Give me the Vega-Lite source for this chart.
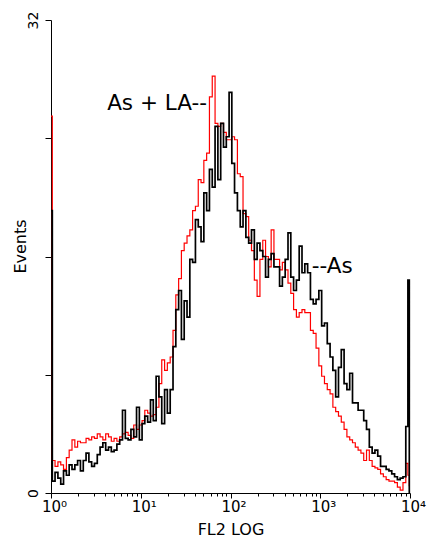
{
  "$schema": "https://vega.github.io/schema/vega-lite/v6.json",
  "width": 359,
  "height": 473,
  "autosize": {"type": "none"},
  "padding": {"left": 51, "top": 20, "right": 17, "bottom": 50},
  "background": "white",
  "config": {"view": {"stroke": null}, "font": "DejaVu Sans"},
  "datasets": {
    "hist": [
      {"fl2": 1, "As": 19.1, "AsLA": 25.5},
      {"fl2": 1.07, "As": 0.8, "AsLA": 2.2},
      {"fl2": 1.15, "As": 1.4, "AsLA": 1.8},
      {"fl2": 1.24, "As": 1.0, "AsLA": 2.1},
      {"fl2": 1.33, "As": 0.6, "AsLA": 1.9},
      {"fl2": 1.43, "As": 1.5, "AsLA": 1.6},
      {"fl2": 1.54, "As": 1.2, "AsLA": 2.4},
      {"fl2": 1.65, "As": 1.9, "AsLA": 2.9},
      {"fl2": 1.78, "As": 1.6, "AsLA": 3.6},
      {"fl2": 1.91, "As": 1.9, "AsLA": 3.1},
      {"fl2": 2.05, "As": 2.2, "AsLA": 3.5},
      {"fl2": 2.21, "As": 1.5, "AsLA": 3.4},
      {"fl2": 2.37, "As": 2.2, "AsLA": 3.4},
      {"fl2": 2.55, "As": 2.7, "AsLA": 3.7},
      {"fl2": 2.74, "As": 2.1, "AsLA": 3.6},
      {"fl2": 2.94, "As": 1.8, "AsLA": 3.8},
      {"fl2": 3.16, "As": 2.0, "AsLA": 3.7},
      {"fl2": 3.4, "As": 2.6, "AsLA": 4.0},
      {"fl2": 3.65, "As": 3.1, "AsLA": 3.8},
      {"fl2": 3.92, "As": 3.4, "AsLA": 3.6},
      {"fl2": 4.22, "As": 2.9, "AsLA": 4.0},
      {"fl2": 4.53, "As": 3.1, "AsLA": 3.8},
      {"fl2": 4.87, "As": 2.8, "AsLA": 3.5},
      {"fl2": 5.23, "As": 2.9, "AsLA": 3.7},
      {"fl2": 5.62, "As": 3.3, "AsLA": 3.5},
      {"fl2": 6.04, "As": 3.6, "AsLA": 3.8},
      {"fl2": 6.49, "As": 5.6, "AsLA": 4.0},
      {"fl2": 6.98, "As": 3.7, "AsLA": 4.1},
      {"fl2": 7.5, "As": 3.6, "AsLA": 3.9},
      {"fl2": 8.06, "As": 4.3, "AsLA": 3.7},
      {"fl2": 8.66, "As": 3.8, "AsLA": 4.6},
      {"fl2": 9.31, "As": 5.8, "AsLA": 4.3},
      {"fl2": 10, "As": 3.6, "AsLA": 4.6},
      {"fl2": 10.7, "As": 4.7, "AsLA": 4.9},
      {"fl2": 11.5, "As": 5.2, "AsLA": 5.6},
      {"fl2": 12.4, "As": 4.8, "AsLA": 5.4},
      {"fl2": 13.3, "As": 6.3, "AsLA": 5.2},
      {"fl2": 14.3, "As": 4.9, "AsLA": 5.3},
      {"fl2": 15.4, "As": 7.9, "AsLA": 5.8},
      {"fl2": 16.5, "As": 6.5, "AsLA": 7.4},
      {"fl2": 17.8, "As": 4.7, "AsLA": 9.0},
      {"fl2": 19.1, "As": 7.0, "AsLA": 8.3},
      {"fl2": 20.5, "As": 5.4, "AsLA": 8.8},
      {"fl2": 22.1, "As": 7.0, "AsLA": 9.2},
      {"fl2": 23.7, "As": 9.9, "AsLA": 11.0},
      {"fl2": 25.5, "As": 12.4, "AsLA": 13.4},
      {"fl2": 27.4, "As": 13.7, "AsLA": 14.5},
      {"fl2": 29.4, "As": 10.4, "AsLA": 16.4},
      {"fl2": 31.6, "As": 13.0, "AsLA": 16.9},
      {"fl2": 34.0, "As": 11.9, "AsLA": 17.4},
      {"fl2": 36.5, "As": 15.8, "AsLA": 17.8},
      {"fl2": 39.2, "As": 15.6, "AsLA": 19.1},
      {"fl2": 42.2, "As": 18.5, "AsLA": 19.4},
      {"fl2": 45.3, "As": 18.0, "AsLA": 21.2},
      {"fl2": 48.7, "As": 17.0, "AsLA": 21.0},
      {"fl2": 52.3, "As": 20.3, "AsLA": 22.5},
      {"fl2": 56.2, "As": 19.1, "AsLA": 23.0},
      {"fl2": 60.4, "As": 21.9, "AsLA": 26.8},
      {"fl2": 64.9, "As": 20.7, "AsLA": 28.2},
      {"fl2": 69.8, "As": 24.8, "AsLA": 25.0},
      {"fl2": 75.0, "As": 21.2, "AsLA": 24.8},
      {"fl2": 80.6, "As": 25.0, "AsLA": 25.0},
      {"fl2": 86.6, "As": 23.4, "AsLA": 24.4},
      {"fl2": 93.1, "As": 24.1, "AsLA": 23.9},
      {"fl2": 100, "As": 27.1, "AsLA": 23.9},
      {"fl2": 107, "As": 22.3, "AsLA": 24.1},
      {"fl2": 115, "As": 20.3, "AsLA": 23.9},
      {"fl2": 124, "As": 19.1, "AsLA": 21.6},
      {"fl2": 133, "As": 18.0, "AsLA": 21.4},
      {"fl2": 143, "As": 19.1, "AsLA": 18.9},
      {"fl2": 154, "As": 17.3, "AsLA": 18.7},
      {"fl2": 165, "As": 16.9, "AsLA": 17.1},
      {"fl2": 178, "As": 17.8, "AsLA": 16.4},
      {"fl2": 191, "As": 15.8, "AsLA": 14.4},
      {"fl2": 205, "As": 16.9, "AsLA": 13.3},
      {"fl2": 221, "As": 16.4, "AsLA": 15.8},
      {"fl2": 237, "As": 16.0, "AsLA": 17.1},
      {"fl2": 255, "As": 14.6, "AsLA": 16.0},
      {"fl2": 274, "As": 15.8, "AsLA": 15.3},
      {"fl2": 294, "As": 16.2, "AsLA": 17.8},
      {"fl2": 316, "As": 15.3, "AsLA": 15.8},
      {"fl2": 340, "As": 15.3, "AsLA": 15.8},
      {"fl2": 365, "As": 14.0, "AsLA": 15.1},
      {"fl2": 392, "As": 14.6, "AsLA": 15.6},
      {"fl2": 422, "As": 15.8, "AsLA": 15.1},
      {"fl2": 453, "As": 17.6, "AsLA": 14.2},
      {"fl2": 487, "As": 14.6, "AsLA": 13.5},
      {"fl2": 523, "As": 13.7, "AsLA": 12.4},
      {"fl2": 562, "As": 14.4, "AsLA": 11.9},
      {"fl2": 604, "As": 16.7, "AsLA": 12.2},
      {"fl2": 649, "As": 14.9, "AsLA": 12.4},
      {"fl2": 698, "As": 15.5, "AsLA": 12.2},
      {"fl2": 750, "As": 14.9, "AsLA": 12.2},
      {"fl2": 806, "As": 13.1, "AsLA": 11.0},
      {"fl2": 866, "As": 12.8, "AsLA": 10.8},
      {"fl2": 931, "As": 13.1, "AsLA": 9.8},
      {"fl2": 1000, "As": 13.7, "AsLA": 8.6},
      {"fl2": 1075, "As": 11.3, "AsLA": 7.9},
      {"fl2": 1155, "As": 11.5, "AsLA": 7.4},
      {"fl2": 1241, "As": 10.1, "AsLA": 7.0},
      {"fl2": 1334, "As": 9.2, "AsLA": 6.7},
      {"fl2": 1433, "As": 8.3, "AsLA": 5.8},
      {"fl2": 1540, "As": 6.5, "AsLA": 5.5},
      {"fl2": 1655, "As": 8.5, "AsLA": 5.2},
      {"fl2": 1778, "As": 9.7, "AsLA": 4.8},
      {"fl2": 1911, "As": 7.4, "AsLA": 4.3},
      {"fl2": 2054, "As": 7.0, "AsLA": 3.8},
      {"fl2": 2207, "As": 8.1, "AsLA": 3.6},
      {"fl2": 2371, "As": 6.1, "AsLA": 3.4},
      {"fl2": 2548, "As": 6.1, "AsLA": 3.1},
      {"fl2": 2738, "As": 5.6, "AsLA": 2.9},
      {"fl2": 2943, "As": 5.6, "AsLA": 2.7},
      {"fl2": 3162, "As": 4.9, "AsLA": 2.2},
      {"fl2": 3398, "As": 4.3, "AsLA": 2.9},
      {"fl2": 3652, "As": 3.1, "AsLA": 2.2},
      {"fl2": 3924, "As": 2.7, "AsLA": 1.8},
      {"fl2": 4217, "As": 2.9, "AsLA": 1.7},
      {"fl2": 4532, "As": 2.5, "AsLA": 1.6},
      {"fl2": 4870, "As": 1.8, "AsLA": 1.3},
      {"fl2": 5233, "As": 1.8, "AsLA": 1.1},
      {"fl2": 5623, "As": 1.6, "AsLA": 0.9},
      {"fl2": 6043, "As": 1.5, "AsLA": 0.8},
      {"fl2": 6494, "As": 1.3, "AsLA": 0.8},
      {"fl2": 6978, "As": 1.1, "AsLA": 0.7},
      {"fl2": 7499, "As": 0.9, "AsLA": 0.4},
      {"fl2": 8058, "As": 1.0, "AsLA": 0.2},
      {"fl2": 8660, "As": 1.1, "AsLA": 0.7},
      {"fl2": 9306, "As": 4.5, "AsLA": 2.0},
      {"fl2": 9650, "As": 14.4, "AsLA": 1.2},
      {"fl2": 10000, "As": 0, "AsLA": 0.5}
    ]
  },
  "layer": [
    {
      "data": {"name": "hist"},
      "transform": [{"fold": ["AsLA", "As"], "as": ["sample", "events"]}],
      "mark": {"type": "line", "interpolate": "step"},
      "encoding": {
        "x": {
          "field": "fl2",
          "type": "quantitative",
          "scale": {"type": "log", "domain": [1, 10000], "nice": false},
          "axis": {
            "values": [1, 2, 3, 4, 5, 6, 7, 8, 9, 10, 20, 30, 40, 50, 60, 70, 80, 90, 100, 200, 300, 400, 500, 600, 700, 800, 900, 1000, 2000, 3000, 4000, 5000, 6000, 7000, 8000, 9000, 10000],
            "labelExpr": "datum.value == 1 ? '10⁰' : datum.value == 10 ? '10¹' : datum.value == 100 ? '10²' : datum.value == 1000 ? '10³' : datum.value == 10000 ? '10⁴' : ''",
            "tickSize": {"condition": {"test": "datum.value == 1 || datum.value == 10 || datum.value == 100 || datum.value == 1000 || datum.value == 10000", "value": 5}, "value": 3},
            "title": "FL2 LOG",
            "titleFontSize": 16,
            "titleFontWeight": "normal",
            "titleColor": "#000000",
            "titlePadding": 7,
            "labelFontSize": 15,
            "labelColor": "#000000",
            "labelFlush": false,
            "labelOverlap": false,
            "labelBound": false,
            "labelPadding": 1,
            "labelOffset": 3,
            "domainColor": "#000000",
            "tickColor": "#000000",
            "grid": false
          }
        },
        "y": {
          "field": "events",
          "type": "quantitative",
          "scale": {"domain": [0, 32], "nice": false},
          "axis": {
            "values": [0, 8, 16, 24, 32],
            "labelExpr": "datum.value == 0 || datum.value == 32 ? datum.label : ''",
            "labelAngle": -90,
            "labelFontSize": 14,
            "labelColor": "#000000",
            "labelPadding": 5,
            "labelFlush": false,
            "labelBound": false,
            "labelOverlap": false,
            "tickSize": 6,
            "tickColor": "#000000",
            "domainColor": "#000000",
            "title": "Events",
            "titleFontSize": 16,
            "titleFontWeight": "normal",
            "titleColor": "#000000",
            "titlePadding": -2,
            "titleY": 226,
            "grid": false
          }
        },
        "color": {"field": "sample", "type": "nominal", "scale": {"domain": ["AsLA", "As"], "range": ["#ff0000", "#000000"]}, "legend": null},
        "strokeWidth": {"field": "sample", "type": "nominal", "scale": {"domain": ["AsLA", "As"], "range": [1.2, 1.7]}, "legend": null}
      }
    },
    {
      "data": {"values": [{"fl2": 54.7, "events": 25.9, "label": "As + LA--"}]},
      "mark": {"type": "text", "align": "right", "baseline": "alphabetic", "fontSize": 21.5, "color": "#000000"},
      "encoding": {
        "x": {"field": "fl2", "type": "quantitative"},
        "y": {"field": "events", "type": "quantitative"},
        "text": {"field": "label"}
      }
    },
    {
      "data": {"values": [{"fl2": 803, "events": 14.86, "label": "--As"}]},
      "mark": {"type": "text", "align": "left", "baseline": "alphabetic", "fontSize": 21.5, "color": "#000000"},
      "encoding": {
        "x": {"field": "fl2", "type": "quantitative"},
        "y": {"field": "events", "type": "quantitative"},
        "text": {"field": "label"}
      }
    }
  ]
}
